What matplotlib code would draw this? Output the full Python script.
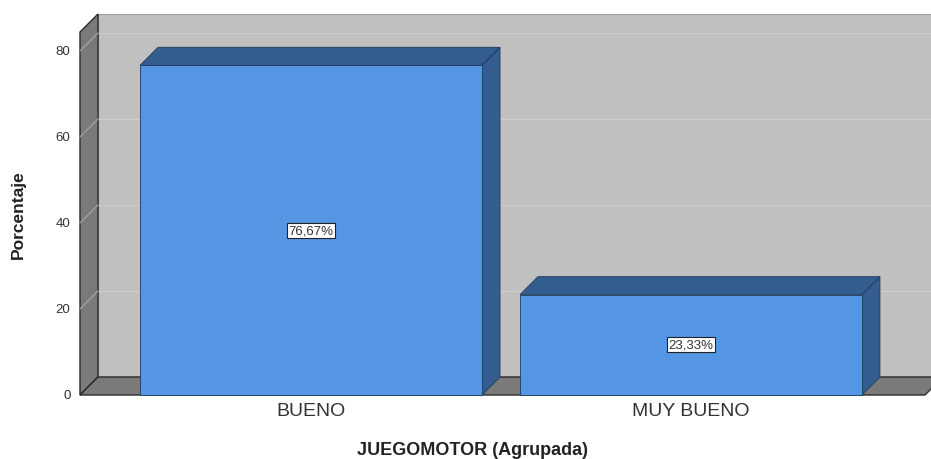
import matplotlib.pyplot as plt
from matplotlib.patches import Polygon

plt.rcParams['font.family'] = ['Liberation Sans', 'DejaVu Sans']

categorias = ['BUENO', 'MUY BUENO']
porcentajes = [76.67, 23.33]
etiquetas = ['76,67%', '23,33%']
yticks = [0, 20, 40, 60, 80]

# estilo
c_front = '#5495e4'
c_side = '#335d8f'
c_back = '#c0c0c0'
c_wall = '#7a7a7a'
c_edge = '#2a2a2a'
ancho = 0.9
dx, dy = 0.0474, 4.19   # profundidad 3D en unidades de datos

fig = plt.figure(figsize=(9.31, 4.60), dpi=100)
ax = fig.add_axes([80 / 931, 64 / 460, 845 / 931, 381 / 460])
x0, x1 = -0.608, 1.616
ytop = 88.6
ax.set_xlim(x0, x1)
ax.set_ylim(0, ytop)
ax.axis('off')

# pared de fondo
ax.add_patch(Polygon([(x0 + dx, dy), (x1 + dx, dy), (x1 + dx, ytop), (x0 + dx, ytop)],
                     closed=True, fc=c_back, ec='#a0a0a0', lw=0.8, clip_on=False, zorder=1))
# pared izquierda
ax.add_patch(Polygon([(x0, 0), (x0 + dx, dy), (x0 + dx, ytop), (x0, ytop - dy)],
                     closed=True, fc=c_wall, ec=c_edge, lw=1.0, clip_on=False, zorder=2))
# suelo
ax.add_patch(Polygon([(x0, 0), (x1, 0), (x1 + dx, dy), (x0 + dx, dy)],
                     closed=True, fc=c_wall, ec=c_edge, lw=1.0, clip_on=False, zorder=2))

# lineas de cuadricula
for v in yticks[1:]:
    ax.plot([x0 + dx, x1 + dx], [v + dy, v + dy], color='#cdcdcd', lw=0.8, zorder=1.5, clip_on=False)
    ax.plot([x0, x0 + dx], [v, v + dy], color='#a8a8a8', lw=0.8, zorder=2.5, clip_on=False)
for v in yticks:
    ax.text(x0 - 0.025, v, str(v), ha='right', va='center', fontsize=9.5, color='#333333')

# barras 3D
for i, (cat, val, lab) in enumerate(zip(categorias, porcentajes, etiquetas)):
    l, r = i - ancho / 2, i + ancho / 2
    ax.add_patch(Polygon([(r, 0), (r + dx, dy), (r + dx, val + dy), (r, val)],
                         closed=True, fc=c_side, ec='#1f3a5c', lw=0.6, zorder=3, clip_on=False))
    ax.add_patch(Polygon([(l, val), (r, val), (r + dx, val + dy), (l + dx, val + dy)],
                         closed=True, fc=c_side, ec='#1f3a5c', lw=0.6, zorder=3, clip_on=False))
    ax.add_patch(Polygon([(l, 0), (r, 0), (r, val), (l, val)],
                         closed=True, fc=c_front, ec='#1f3a5c', lw=0.6, zorder=4, clip_on=False))
    ax.text(i, val / 2, lab, ha='center', va='center', fontsize=9.5, color='#333333', zorder=5,
            bbox=dict(boxstyle='square,pad=0.12', fc='white', ec='#222222', lw=0.8))
    ax.text(i, -3.7, cat, ha='center', va='center', fontsize=14, color='#333333')

ax.text((x0 + x1) / 2 - 0.08, -12.6, 'JUEGOMOTOR (Agrupada)', ha='center', va='center',
        fontsize=13, fontweight='bold', color='#222222')
fig.text(18 / 931, 1 - 215 / 460, 'Porcentaje', rotation=90, ha='center', va='center',
         fontsize=12.5, fontweight='bold', color='#222222')

fig.savefig('out.png', dpi=100)
